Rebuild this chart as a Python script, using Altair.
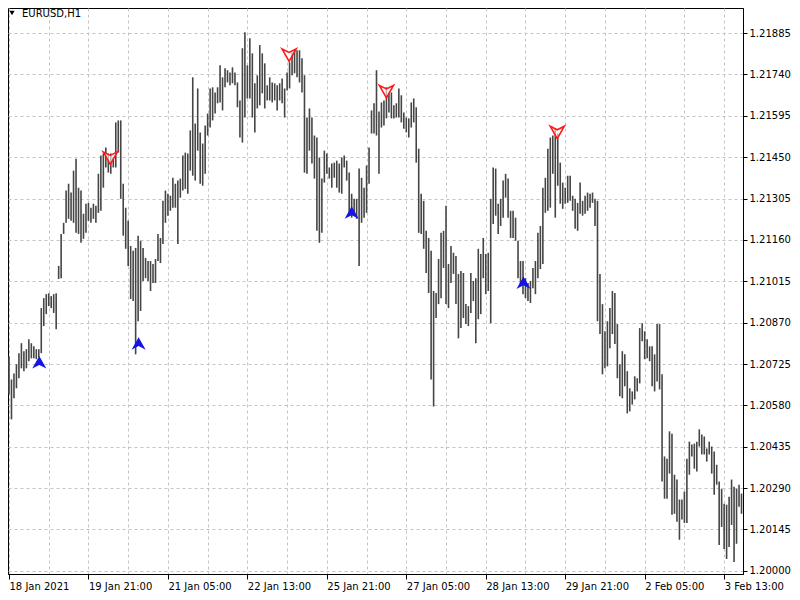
import altair as alt
import pandas as pd

# ---- data (EURUSD H1 bars) ----
high = [1.20752, 1.20671, 1.20692, 1.20724, 1.20763, 1.20798, 1.20770, 1.20777, 1.20812, 1.20798,
        1.20787, 1.20777, 1.20777, 1.20921, 1.20956, 1.20970, 1.20973, 1.20963, 1.20970, 1.20973,
        1.21069, 1.21181, 1.21220, 1.21333, 1.21357, 1.21326, 1.21403, 1.21445, 1.21343, 1.21333,
        1.21252, 1.21287, 1.21290, 1.21273, 1.21287, 1.21280, 1.21392, 1.21456, 1.21463, 1.21484,
        1.21463, 1.21463, 1.21449, 1.21572, 1.21579, 1.21579, 1.21357, 1.21273, 1.21227, 1.21139,
        1.21122, 1.21132, 1.21175, 1.21157, 1.21132, 1.21097, 1.21086, 1.21086, 1.21076, 1.21093,
        1.21181, 1.21167, 1.21297, 1.21333, 1.21322, 1.21315, 1.21378, 1.21357, 1.21368, 1.21375,
        1.21456, 1.21466, 1.21463, 1.21544, 1.21730, 1.21568, 1.21691, 1.21537, 1.21498, 1.21561,
        1.21603, 1.21691, 1.21695, 1.21677, 1.21695, 1.21772, 1.21730, 1.21762, 1.21755, 1.21747,
        1.21765, 1.21747, 1.21712, 1.21649, 1.21832, 1.21888, 1.21772, 1.21867, 1.21814, 1.21709,
        1.21737, 1.21843, 1.21814, 1.21779, 1.21702, 1.21730, 1.21712, 1.21709, 1.21702, 1.21709,
        1.21726, 1.21691, 1.21747, 1.21783, 1.21818, 1.21825, 1.21825, 1.21825, 1.21797, 1.21737,
        1.21589, 1.21621, 1.21589, 1.21526, 1.21519, 1.21449, 1.21375, 1.21473, 1.21463, 1.21414,
        1.21428, 1.21431, 1.21438, 1.21428, 1.21449, 1.21456, 1.21438, 1.21396, 1.21322, 1.21304,
        1.21304, 1.21410, 1.21378, 1.21343, 1.21421, 1.21484, 1.21614, 1.21639, 1.21755, 1.21610,
        1.21642, 1.21649, 1.21695, 1.21677, 1.21677, 1.21632, 1.21639, 1.21691, 1.21667, 1.21607,
        1.21589, 1.21586, 1.21642, 1.21656, 1.21625, 1.21480, 1.21322, 1.21297, 1.21192, 1.21167,
        1.21122, 1.20981, 1.20974, 1.21093, 1.21185, 1.21192, 1.21280, 1.21076, 1.21139, 1.21115,
        1.21104, 1.21041, 1.21051, 1.21044, 1.20935, 1.20928, 1.21044, 1.21016, 1.21026, 1.21129,
        1.21111, 1.21167, 1.21111, 1.21115, 1.21304, 1.21414, 1.21410, 1.21287, 1.21304, 1.21368,
        1.21392, 1.21375, 1.21262, 1.21262, 1.21238, 1.21157, 1.21086, 1.21086, 1.21026, 1.21009,
        1.21016, 1.21062, 1.21086, 1.21185, 1.21209, 1.21343, 1.21378, 1.21480, 1.21519, 1.21526,
        1.21551, 1.21533, 1.21431, 1.21361, 1.21343, 1.21385, 1.21385, 1.21315, 1.21304, 1.21290,
        1.21361, 1.21297, 1.21315, 1.21326, 1.21322, 1.21326, 1.21304, 1.21297, 1.21041, 1.20935,
        1.20840, 1.20875, 1.20921, 1.20981, 1.20974, 1.20865, 1.20724, 1.20770, 1.20759, 1.20700,
        1.20640, 1.20629, 1.20682, 1.20675, 1.20851, 1.20868, 1.20840, 1.20812, 1.20787, 1.20787,
        1.20759, 1.20865, 1.20865, 1.20689, 1.20401, 1.20393, 1.20489, 1.20481, 1.20337, 1.20320,
        1.20250, 1.20250, 1.20278, 1.20393, 1.20453, 1.20443, 1.20446, 1.20453, 1.20496, 1.20478,
        1.20471, 1.20429, 1.20453, 1.20436, 1.20418, 1.20372, 1.20313, 1.20288, 1.20235, 1.20232,
        1.20260, 1.20320, 1.20295, 1.20288, 1.20302, 1.20271]

low = [1.20619, 1.20531, 1.20605, 1.20640, 1.20675, 1.20710, 1.20700, 1.20710, 1.20735, 1.20745,
       1.20745, 1.20742, 1.20749, 1.20763, 1.20858, 1.20900, 1.20928, 1.20921, 1.20904, 1.20847,
       1.21023, 1.21026, 1.21181, 1.21220, 1.21234, 1.21227, 1.21220, 1.21185, 1.21181, 1.21150,
       1.21164, 1.21185, 1.21227, 1.21220, 1.21234, 1.21220, 1.21255, 1.21262, 1.21343, 1.21414,
       1.21396, 1.21392, 1.21414, 1.21414, 1.21466, 1.21304, 1.21175, 1.21129, 1.21069, 1.20953,
       1.20946, 1.20759, 1.20875, 1.20911, 1.21016, 1.21026, 1.21016, 1.20981, 1.21009, 1.21009,
       1.21086, 1.21079, 1.21146, 1.21220, 1.21245, 1.21262, 1.21273, 1.21273, 1.21146, 1.21308,
       1.21333, 1.21339, 1.21322, 1.21403, 1.21385, 1.21368, 1.21473, 1.21357, 1.21350, 1.21392,
       1.21526, 1.21554, 1.21579, 1.21603, 1.21639, 1.21642, 1.21614, 1.21695, 1.21712, 1.21702,
       1.21709, 1.21702, 1.21625, 1.21519, 1.21501, 1.21589, 1.21656, 1.21656, 1.21589, 1.21537,
       1.21621, 1.21632, 1.21674, 1.21621, 1.21649, 1.21649, 1.21642, 1.21649, 1.21614, 1.21649,
       1.21639, 1.21589, 1.21684, 1.21691, 1.21737, 1.21744, 1.21730, 1.21712, 1.21677, 1.21396,
       1.21392, 1.21473, 1.21428, 1.21375, 1.21192, 1.21150, 1.21185, 1.21361, 1.21392, 1.21375,
       1.21343, 1.21378, 1.21343, 1.21326, 1.21322, 1.21414, 1.21368, 1.21245, 1.21238, 1.21245,
       1.21234, 1.21069, 1.21220, 1.21238, 1.21255, 1.21357, 1.21533, 1.21533, 1.21526, 1.21392,
       1.21554, 1.21561, 1.21586, 1.21607, 1.21586, 1.21586, 1.21589, 1.21589, 1.21572, 1.21550,
       1.21537, 1.21519, 1.21554, 1.21572, 1.21431, 1.21185, 1.21181, 1.21129, 1.21044, 1.20974,
       1.20671, 1.20576, 1.20886, 1.20935, 1.20956, 1.21062, 1.20935, 1.20921, 1.21009, 1.21041,
       1.20935, 1.20815, 1.20851, 1.20886, 1.20865, 1.20858, 1.20904, 1.20946, 1.20798, 1.20882,
       1.20900, 1.21026, 1.20970, 1.20981, 1.20868, 1.21216, 1.21245, 1.21181, 1.21209, 1.21238,
       1.21308, 1.21238, 1.21167, 1.21167, 1.21157, 1.21026, 1.21005, 1.20970, 1.20956, 1.20946,
       1.20939, 1.20991, 1.20970, 1.21026, 1.21058, 1.21076, 1.21255, 1.21262, 1.21273, 1.21392,
       1.21238, 1.21350, 1.21287, 1.21269, 1.21287, 1.21290, 1.21297, 1.21262, 1.21199, 1.21192,
       1.21252, 1.21245, 1.21252, 1.21262, 1.21273, 1.21290, 1.21209, 1.20875, 1.20830, 1.20689,
       1.20710, 1.20717, 1.20780, 1.20830, 1.20795, 1.20675, 1.20612, 1.20605, 1.20647, 1.20552,
       1.20559, 1.20583, 1.20601, 1.20629, 1.20657, 1.20805, 1.20742, 1.20745, 1.20735, 1.20647,
       1.20629, 1.20664, 1.20636, 1.20313, 1.20253, 1.20253, 1.20341, 1.20197, 1.20200, 1.20172,
       1.20109, 1.20180, 1.20168, 1.20168, 1.20337, 1.20401, 1.20358, 1.20348, 1.20436, 1.20408,
       1.20408, 1.20383, 1.20408, 1.20341, 1.20267, 1.20302, 1.20091, 1.20154, 1.20077, 1.20042,
       1.20084, 1.20161, 1.20031, 1.20095, 1.20225, 1.20200]

up_bar = [12.2, 52.2, 138.0, 207.2]
up_price = [1.20728, 1.20794, 1.21253, 1.21007]
down_bar = [40.8, 112.8, 152.0, 220.8]
down_price = [1.21450, 1.21811, 1.21683, 1.21540]

price_ticks = [1.20000, 1.20145, 1.20290, 1.20435, 1.20580, 1.20725, 1.20870,
               1.21015, 1.21160, 1.21305, 1.21450, 1.21595, 1.21740, 1.21885]
time_tick_bars = [0, 32, 64, 96, 128, 160, 192, 224, 256, 288]
time_tick_labels = ["18 Jan 2021", "19 Jan 21:00", "21 Jan 05:00", "22 Jan 13:00",
                    "25 Jan 21:00", "27 Jan 05:00", "28 Jan 13:00", "29 Jan 21:00",
                    "2 Feb 05:00", "3 Feb 13:00"]
grid_bars = [0, 16, 32, 48, 64, 80, 96, 112, 128, 144, 160, 176, 192, 208, 224, 240,
             256, 272, 288]
symbol_title = "EURUSD,H1"

# ---- build ----
bars = pd.DataFrame({"bar": list(range(len(high))), "high": high, "low": low})
ups = pd.DataFrame({"bar": up_bar, "price": up_price})
downs = pd.DataFrame({"bar": down_bar, "price": down_price})

FONT = "DejaVu Sans"
xscale = alt.Scale(domain=[-0.4, 295.6], nice=False, zero=False)
yscale = alt.Scale(domain=[1.19989, 1.21973], nice=False, zero=False)

label_arr = "[" + ",".join("'" + s + "'" for s in time_tick_labels) + "]"
x_axis = alt.Axis(
    values=grid_bars,
    labelExpr=f"datum.value % 32 == 0 ? {label_arr}[round(datum.value / 32)] : ''",
    grid=True, gridDash=[3, 3], gridColor="#c4c4c4", gridWidth=1,
    tickColor="black", tickSize=5,
    tickOpacity={"condition": {"test": "datum.value % 32 == 0", "value": 1}, "value": 0},
    domainColor="black", labelAlign="left", labelPadding=2, labelFlush=False,
    labelOverlap=False, labelBound=False, labelFont=FONT, labelFontSize=10,
    labelColor="black", title=None,
)
y_axis = alt.Axis(
    orient="right", values=price_ticks, format=".5f",
    grid=True, gridDash=[3, 3], gridColor="#c4c4c4", gridWidth=1,
    tickColor="black", tickSize=4, domainColor="black", labelPadding=2,
    labelOverlap=False, labelFont=FONT, labelFontSize=10, labelColor="black",
    title=None,
)

bar_layer = alt.Chart(bars).mark_rule(color="#454545", strokeWidth=1.6).encode(
    x=alt.X("bar:Q", scale=xscale, axis=x_axis),
    y=alt.Y("low:Q", scale=yscale, axis=y_axis),
    y2="high:Q",
)

up_layer = alt.Chart(ups).mark_point(
    shape="M0,-1 L1,0.75 L0,0.25 L-1,0.75 Z", size=200, filled=True,
    color="#1414e6", opacity=1, strokeWidth=1,
).encode(x=alt.X("bar:Q", scale=xscale), y=alt.Y("price:Q", scale=yscale))

down_layer = alt.Chart(downs).mark_point(
    shape="M-1,-0.75 L0,-0.25 L1,-0.75 L0,1 Z", size=200, filled=False,
    stroke="#ff1a1a", fill="white", fillOpacity=0.6, strokeWidth=1.6, opacity=1,
).encode(x=alt.X("bar:Q", scale=xscale), y=alt.Y("price:Q", scale=yscale))

tri = alt.Chart(pd.DataFrame({"t": [symbol_title]})).mark_point(
    shape="triangle-down", filled=True, color="black", size=28, opacity=1
).encode(x=alt.value(4), y=alt.value(5))

title_txt = alt.Chart(pd.DataFrame({"t": [symbol_title]})).mark_text(
    align="left", baseline="middle", font=FONT, fontSize=10, color="black"
).encode(x=alt.value(14), y=alt.value(6), text="t:N")

chart = alt.layer(bar_layer, up_layer, down_layer, tri, title_txt).properties(
    width=735, height=566,
    padding={"left": 0, "top": 0, "right": 49, "bottom": 22},
    autosize=alt.AutoSizeParams(type="none"),
    background="white",
).configure_view(stroke="black", strokeWidth=1)

chart.save("out.html", embed_options={"renderer": "svg", "actions": False})
